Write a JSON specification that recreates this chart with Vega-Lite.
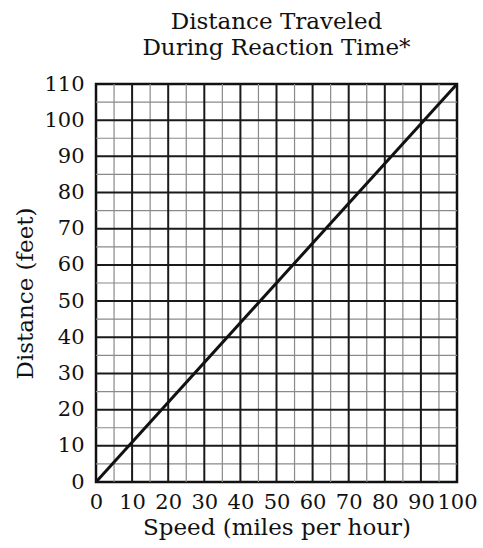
{
  "$schema": "https://vega.github.io/schema/vega-lite/v6.json",
  "width": 361,
  "height": 398,
  "autosize": {"type": "none"},
  "padding": {"left": 96, "top": 84, "right": 26, "bottom": 66},
  "background": "white",
  "title": {
    "text": ["Distance Traveled", "During Reaction Time*"],
    "font": "DejaVu Serif",
    "fontSize": 23,
    "fontWeight": "normal",
    "color": "#111",
    "lineHeight": 26,
    "anchor": "middle",
    "offset": 13
  },
  "config": {
    "view": {"stroke": "#111", "strokeWidth": 2.5},
    "axis": {
      "labelFont": "DejaVu Serif",
      "titleFont": "DejaVu Serif",
      "labelFontSize": 21,
      "titleFontSize": 23,
      "titleFontWeight": "normal",
      "labelColor": "#111",
      "titleColor": "#111",
      "labelOverlap": false,
      "labelFlush": false,
      "grid": false,
      "ticks": false,
      "domain": false
    }
  },
  "datasets": {
    "line": [{"speed": 0, "distance": 0}, {"speed": 100, "distance": 110}],
    "minorX": [{"v": 5}, {"v": 15}, {"v": 25}, {"v": 35}, {"v": 45}, {"v": 55}, {"v": 65}, {"v": 75}, {"v": 85}, {"v": 95}],
    "minorY": [{"v": 5}, {"v": 15}, {"v": 25}, {"v": 35}, {"v": 45}, {"v": 55}, {"v": 65}, {"v": 75}, {"v": 85}, {"v": 95}, {"v": 105}],
    "majorX": [{"v": 10}, {"v": 20}, {"v": 30}, {"v": 40}, {"v": 50}, {"v": 60}, {"v": 70}, {"v": 80}, {"v": 90}],
    "majorY": [{"v": 10}, {"v": 20}, {"v": 30}, {"v": 40}, {"v": 50}, {"v": 60}, {"v": 70}, {"v": 80}, {"v": 90}, {"v": 100}]
  },
  "layer": [
    {
      "data": {"name": "minorX"},
      "mark": {"type": "rule", "color": "#8a8a8a", "strokeWidth": 1.2},
      "encoding": {
        "x": {"field": "v", "type": "quantitative", "scale": {"domain": [0, 100], "nice": false}, "axis": {"values": [0, 10, 20, 30, 40, 50, 60, 70, 80, 90, 100], "title": "Speed (miles per hour)", "labelPadding": 9, "titlePadding": 4}}
      }
    },
    {
      "data": {"name": "minorY"},
      "mark": {"type": "rule", "color": "#8a8a8a", "strokeWidth": 1.2},
      "encoding": {
        "y": {"field": "v", "type": "quantitative", "scale": {"domain": [0, 110], "nice": false}, "axis": {"values": [0, 10, 20, 30, 40, 50, 60, 70, 80, 90, 100, 110], "title": "Distance (feet)", "labelPadding": 12, "titlePadding": 6, "titleY": 209}}
      }
    },
    {
      "data": {"name": "majorX"},
      "mark": {"type": "rule", "color": "#1a1a1a", "strokeWidth": 2},
      "encoding": {"x": {"field": "v", "type": "quantitative", "axis": {"values": [0, 10, 20, 30, 40, 50, 60, 70, 80, 90, 100], "title": "Speed (miles per hour)", "labelPadding": 9, "titlePadding": 4}}}
    },
    {
      "data": {"name": "majorY"},
      "mark": {"type": "rule", "color": "#1a1a1a", "strokeWidth": 2},
      "encoding": {"y": {"field": "v", "type": "quantitative", "axis": {"values": [0, 10, 20, 30, 40, 50, 60, 70, 80, 90, 100, 110], "title": "Distance (feet)", "labelPadding": 12, "titlePadding": 6, "titleY": 209}}}
    },
    {
      "data": {"name": "line"},
      "mark": {"type": "line", "color": "#111", "strokeWidth": 3},
      "encoding": {
        "x": {"field": "speed", "type": "quantitative", "axis": {"values": [0, 10, 20, 30, 40, 50, 60, 70, 80, 90, 100], "title": "Speed (miles per hour)", "labelPadding": 9, "titlePadding": 4}},
        "y": {"field": "distance", "type": "quantitative", "axis": {"values": [0, 10, 20, 30, 40, 50, 60, 70, 80, 90, 100, 110], "title": "Distance (feet)", "labelPadding": 12, "titlePadding": 6, "titleY": 209}}
      }
    }
  ]
}
